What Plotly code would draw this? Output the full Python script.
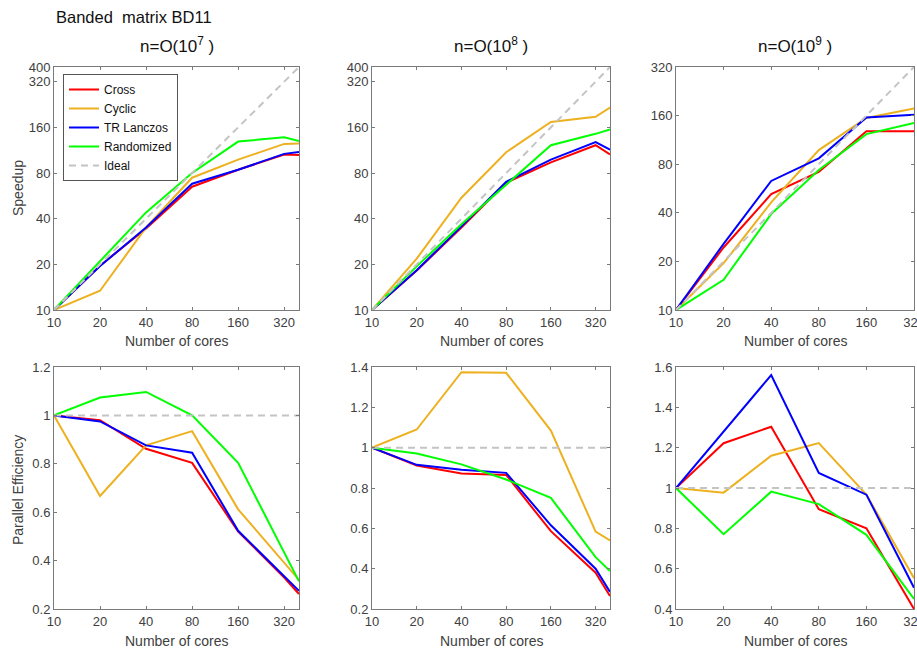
import math
import plotly.graph_objects as go

# ---------------- data ----------------
cores_a = [10, 20, 40, 80, 160, 320, 400]   # n=O(10^7), n=O(10^8)
cores_b = [10, 20, 40, 80, 160, 320]        # n=O(10^9)

# Speedup, n=O(10^7)
sp7_cross = [10, 19.6, 34.5, 65, 84, 106, 105]
sp7_cyclic = [10, 13.4, 35, 74.5, 98, 124.5, 125]
sp7_trl = [10, 19.5, 35, 68, 84, 107, 110]
sp7_rand = [10, 21.0, 44, 80, 129, 137.5, 130]

# Speedup, n=O(10^8)
sp8_cross = [10, 18.2, 34.9, 69, 94, 122, 106]
sp8_cyclic = [10, 21.8, 55, 109.7, 173.6, 188, 216]
sp8_trl = [10, 18.3, 35.6, 70, 98, 128, 114]
sp8_rand = [10, 19.4, 36.7, 67.4, 122, 145, 155]

# Speedup, n=O(10^9)
sp9_cross = [10, 24.4, 52.2, 71.6, 128, 128]
sp9_cyclic = [10, 19.5, 46.4, 97.8, 154.7, 177]
sp9_trl = [10, 25.7, 63, 87, 156, 162]
sp9_rand = [10, 15.4, 39.3, 73.6, 122.9, 144]

# Parallel efficiency, n=O(10^7)
pe7_cross = [1, 0.98, 0.862, 0.804, 0.52, 0.33, 0.262]
pe7_cyclic = [1, 0.667, 0.876, 0.935, 0.612, 0.39, 0.32]
pe7_trl = [1, 0.975, 0.876, 0.846, 0.523, 0.335, 0.275]
pe7_rand = [1, 1.074, 1.097, 1.0, 0.804, 0.434, 0.314]

# Parallel efficiency, n=O(10^8)
pe8_cross = [1, 0.912, 0.872, 0.865, 0.586, 0.38, 0.264]
pe8_cyclic = [1, 1.09, 1.374, 1.371, 1.085, 0.584, 0.54]
pe8_trl = [1, 0.915, 0.89, 0.875, 0.615, 0.40, 0.285]
pe8_rand = [1, 0.971, 0.917, 0.842, 0.751, 0.457, 0.388]

# Parallel efficiency, n=O(10^9)
pe9_cross = [1, 1.222, 1.304, 0.895, 0.80, 0.40]
pe9_cyclic = [1, 0.977, 1.16, 1.223, 0.967, 0.553]
pe9_trl = [1, 1.28, 1.56, 1.075, 0.967, 0.505]
pe9_rand = [1, 0.771, 0.982, 0.92, 0.768, 0.45]

ideal_sp_a = [10, 20, 40, 80, 160, 320, 400]
ideal_sp_b = [10, 20, 40, 80, 160, 320]
ideal_pe_a = [1, 1, 1, 1, 1, 1, 1]
ideal_pe_b = [1, 1, 1, 1, 1, 1]

series_names = ["Cross", "Cyclic", "TR Lanczos", "Randomized"]
series_colors = ["#ff0000", "#edb120", "#0000ff", "#00ff00"]
ideal_color = "#c4c4c4"

x_ticks = [10, 20, 40, 80, 160, 320]
sp_ticks_a = [10, 20, 40, 80, 160, 320, 400]
sp_ticks_b = [10, 20, 40, 80, 160, 320]
pe_ticks_7 = [0.2, 0.4, 0.6, 0.8, 1.0, 1.2]
pe_ticks_8 = [0.2, 0.4, 0.6, 0.8, 1.0, 1.2, 1.4]
pe_ticks_9 = [0.4, 0.6, 0.8, 1.0, 1.2, 1.4, 1.6]

panel_titles = ["n=O(10<sup>7</sup> )", "n=O(10<sup>8</sup> )", "n=O(10<sup>9</sup> )"]

# ---------------- layout geometry (pixels) ----------------
W, H = 917, 651
cols_px = [(54, 299), (372, 610), (676, 914)]
top_px = (67, 310)
bot_px = (367, 609)

def xd(a, b):
    return [a / W, b / W]

def yd(t, b):
    return [1 - b / H, 1 - t / H]

fig = go.Figure()

panels = [
    (0, 0, cores_a, [sp7_cross, sp7_cyclic, sp7_trl, sp7_rand], ideal_sp_a, True, [10, 400], sp_ticks_a),
    (0, 1, cores_a, [sp8_cross, sp8_cyclic, sp8_trl, sp8_rand], ideal_sp_a, True, [10, 400], sp_ticks_a),
    (0, 2, cores_b, [sp9_cross, sp9_cyclic, sp9_trl, sp9_rand], ideal_sp_b, True, [10, 320], sp_ticks_b),
    (1, 0, cores_a, [pe7_cross, pe7_cyclic, pe7_trl, pe7_rand], ideal_pe_a, False, [0.2, 1.2], pe_ticks_7),
    (1, 1, cores_a, [pe8_cross, pe8_cyclic, pe8_trl, pe8_rand], ideal_pe_a, False, [0.2, 1.4], pe_ticks_8),
    (1, 2, cores_b, [pe9_cross, pe9_cyclic, pe9_trl, pe9_rand], ideal_pe_b, False, [0.4, 1.6], pe_ticks_9),
]

axis_color = "#7a7a7a"
FONT = "Liberation Sans, Arial, sans-serif"
tick_font = dict(family=FONT, size=13, color="#404040")

for i, (r, c, xs, ys, ideal, logy, yr, yt) in enumerate(panels):
    n = i + 1
    xa = "x" if n == 1 else f"x{n}"
    ya = "y" if n == 1 else f"y{n}"
    show = (n == 1)
    for name, col, y in zip(series_names, series_colors, ys):
        fig.add_trace(go.Scatter(x=xs, y=y, mode="lines", name=name,
                                 line=dict(color=col, width=2),
                                 xaxis=xa, yaxis=ya, showlegend=show))
    fig.add_trace(go.Scatter(x=xs, y=ideal, mode="lines", name="Ideal",
                             line=dict(color=ideal_color, width=2, dash="7px,5px"),
                             xaxis=xa, yaxis=ya, showlegend=show))
    xmax = xs[-1]
    xaxis = dict(domain=xd(*cols_px[c]), type="log",
                 range=[math.log10(10), math.log10(xmax)],
                 tickvals=x_ticks, ticktext=[str(v) for v in x_ticks],
                 ticks="inside", ticklen=3, tickcolor=axis_color,
                 showline=True, linecolor=axis_color, linewidth=1, mirror="ticks",
                 showgrid=False, zeroline=False, tickfont=tick_font,
                 automargin=False, ticklabeloverflow="allow",
                 anchor=ya)
    yaxis = dict(domain=yd(*(top_px if r == 0 else bot_px)),
                 ticks="inside", ticklen=3, tickcolor=axis_color,
                 showline=True, linecolor=axis_color, linewidth=1, mirror="ticks",
                 showgrid=False, zeroline=False, tickfont=tick_font,
                 tickvals=yt, ticktext=[("%g" % v) for v in yt],
                 automargin=False, ticklabeloverflow="allow",
                 anchor=xa)
    if logy:
        yaxis.update(type="log", range=[math.log10(yr[0]), math.log10(yr[1])])
    else:
        yaxis.update(range=yr)
    fig.layout["xaxis" if n == 1 else f"xaxis{n}"] = xaxis
    fig.layout["yaxis" if n == 1 else f"yaxis{n}"] = yaxis

lab_font = dict(family=FONT, size=14, color="#404040")
title_font = dict(family=FONT, size=17, color="#111111")

ann = []
ann.append(dict(text="Banded&nbsp; matrix BD11", x=54 / W, y=1 - 17 / H, xref="paper", yref="paper",
                xanchor="left", yanchor="middle", showarrow=False,
                font=dict(family=FONT, size=16.5, color="#111111")))
for c, t in enumerate(panel_titles):
    cx = (cols_px[c][0] + cols_px[c][1]) / 2
    ann.append(dict(text=t, x=cx / W, y=1 - 45 / H, xref="paper", yref="paper",
                    xanchor="center", yanchor="middle", showarrow=False, font=title_font))
    for yy in (341, 641):
        ann.append(dict(text="Number of cores", x=cx / W, y=1 - yy / H, xref="paper", yref="paper",
                        xanchor="center", yanchor="middle", showarrow=False, font=lab_font))
ann.append(dict(text="Speedup", x=18 / W, y=1 - 188 / H, xref="paper", yref="paper",
                xanchor="center", yanchor="middle", showarrow=False, textangle=-90, font=lab_font))
ann.append(dict(text="Parallel Efficiency", x=18 / W, y=1 - 490 / H, xref="paper", yref="paper",
                xanchor="center", yanchor="middle", showarrow=False, textangle=-90, font=lab_font))

fig.update_layout(
    width=W, height=H,
    margin=dict(l=0, r=0, t=0, b=0, pad=0, autoexpand=False),
    paper_bgcolor="white", plot_bgcolor="white",
    annotations=ann,
    legend=dict(x=63 / W, y=1 - 74 / H, xanchor="left", yanchor="top",
                bgcolor="white", bordercolor="#555555", borderwidth=1,
                font=dict(family=FONT, size=12, color="#111111"),
                itemwidth=30, tracegroupgap=0),
)

fig.write_html("out.html",
               config={"displayModeBar": False},
               post_script="document.body.style.margin='0';document.body.style.overflow='hidden';")
